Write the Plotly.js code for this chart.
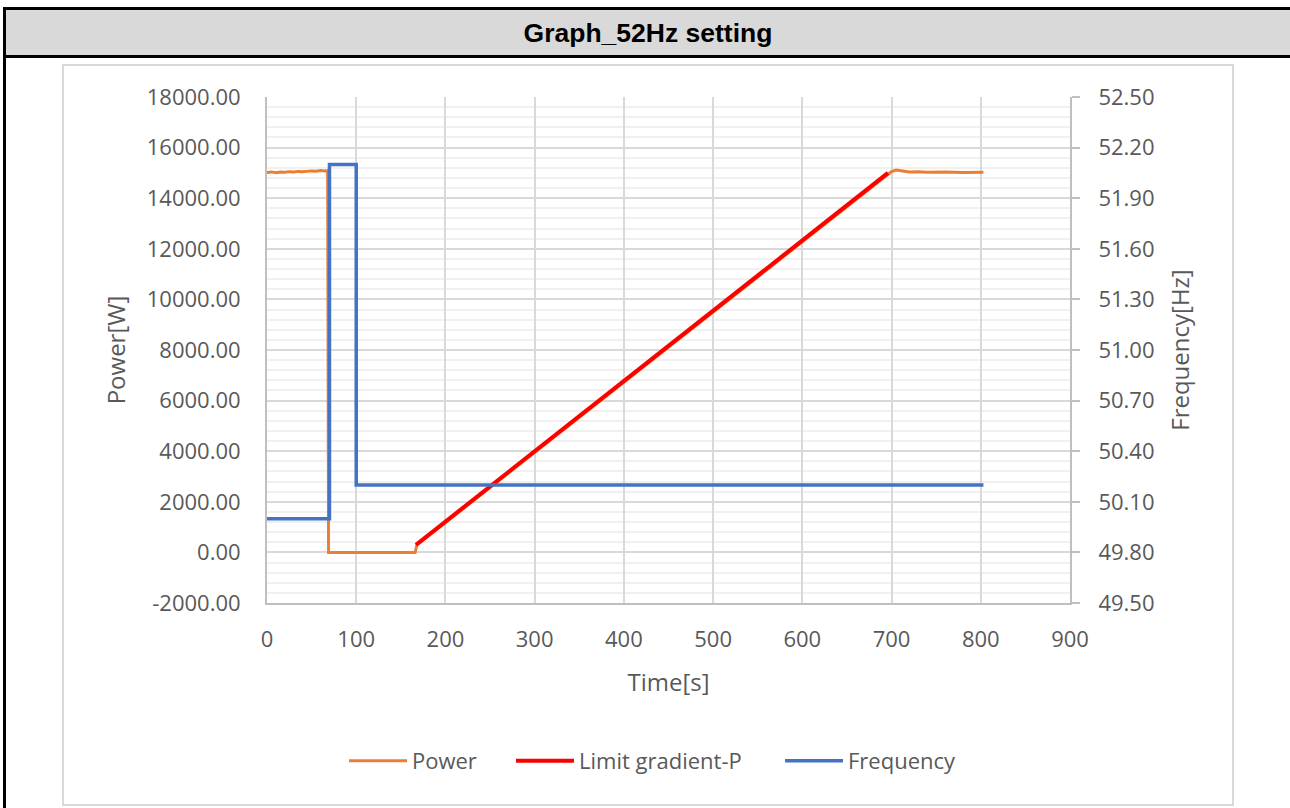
<!DOCTYPE html>
<html>
<head>
<meta charset="utf-8">
<script src="https://cdn.plot.ly/plotly-3.0.1.min.js"></script>
<style>
  html, body { margin: 0; padding: 0; background: #ffffff; width: 1290px; height: 808px; overflow: hidden; }
  #frame { position: absolute; left: 3px; top: 7px; width: 1284px; height: 810px;
           border-left: 3px solid #000; border-top: 3px solid #000; }
  #header { height: 45px; background: #d9d9d9; border-bottom: 3px solid #000;
            font-family: "Liberation Sans", Arial, sans-serif; font-weight: bold; font-size: 26.5px;
            color: #000; text-align: center; line-height: 46px; }
  #box { position: absolute; left: 62px; top: 64px; width: 1172px; height: 742px;
         border: 2px solid #d9d9d9; box-sizing: border-box; }
  #chart { position: absolute; left: 64px; top: 66px; width: 1168px; height: 738px; }
</style>
</head>
<body>
<div id="frame"><div id="header">Graph_52Hz setting</div></div>
<div id="box"></div>
<div id="chart"></div>
<script>
// ---- data ----
const chartTitle = "Graph_52Hz setting";
const seriesNames = ["Power", "Limit gradient-P", "Frequency"];

const powerTime = [0, 5, 10, 15, 20, 25, 30, 35, 40, 45, 50, 55, 60, 65, 68, 69, 80, 100, 120, 140, 160, 166, 167, 168,
                   200, 250, 300, 350, 400, 450, 500, 550, 600, 650, 690, 700, 705, 710, 720, 730, 740, 760, 780, 803];
const powerW = [15020, 15040, 15010, 15035, 15030, 15050, 15040, 15060, 15050, 15070, 15080, 15070, 15090, 15080, 15090, 0, 0, 0, 0, 0, 0, 0, 150, 300,
                1180, 2570, 3960, 5350, 6740, 8130, 9520, 10900, 12300, 13690, 14800, 15050, 15110, 15080, 15040, 15050, 15030, 15040, 15020, 15030];

const limitTime = [167, 696];
const limitW = [300, 15000];

const freqTime = [0, 70, 70, 100, 100, 803];
const freqHz = [50.0, 50.0, 52.1, 52.1, 50.2, 50.2];

const powerTicks = [-2000, 0, 2000, 4000, 6000, 8000, 10000, 12000, 14000, 16000, 18000];
const powerTickText = ["-2000.00", "0.00", "2000.00", "4000.00", "6000.00", "8000.00", "10000.00", "12000.00", "14000.00", "16000.00", "18000.00"];
const freqTicks = [49.5, 49.8, 50.1, 50.4, 50.7, 51.0, 51.3, 51.6, 51.9, 52.2, 52.5];
const freqTickText = ["49.50", "49.80", "50.10", "50.40", "50.70", "51.00", "51.30", "51.60", "51.90", "52.20", "52.50"];
const timeTicks = [0, 100, 200, 300, 400, 500, 600, 700, 800, 900];

const axisTitles = { x: "Time[s]", y: "Power[W]", y2: "Frequency[Hz]" };

// ---- chart ----
const FONT = '"Open Sans", "Noto Sans", sans-serif';
const TXT = '#595959';

const traces = [
  { x: powerTime, y: powerW, name: seriesNames[0], type: 'scatter', mode: 'lines',
    line: { color: '#ED7D31', width: 3 }, yaxis: 'y', legend: 'legend' },
  { x: limitTime, y: limitW, name: seriesNames[1], type: 'scatter', mode: 'lines',
    line: { color: '#FF0000', width: 4 }, yaxis: 'y', legend: 'legend2' },
  { x: freqTime, y: freqHz, name: seriesNames[2], type: 'scatter', mode: 'lines',
    line: { color: '#4472C4', width: 3.5 }, yaxis: 'y2', legend: 'legend3' }
];

function leg(xpx) {
  return { orientation: 'h', x: (xpx - 267) / 803, xanchor: 'left', y: -0.312, yanchor: 'middle',
           itemwidth: 58, font: { family: FONT, size: 22, color: TXT }, bgcolor: 'rgba(0,0,0,0)' };
}

const layout = {
  width: 1168, height: 738,
  margin: { l: 203, r: 162, t: 31, b: 201, pad: 0 },
  paper_bgcolor: 'rgba(0,0,0,0)', plot_bgcolor: '#ffffff',
  font: { family: FONT, color: TXT, size: 22 },
  showlegend: true,
  legend: leg(344),
  legend2: leg(511),
  legend3: leg(780),
  xaxis: {
    range: [0, 900], tickvals: timeTicks, ticktext: timeTicks.map(String),
    showgrid: true, gridcolor: '#d9d9d9', gridwidth: 2,
    zeroline: false, showline: true, linecolor: '#bfbfbf', linewidth: 2,
    ticks: '', ticklabelstandoff: 16,
    tickfont: { family: FONT, size: 22, color: TXT },
    title: { text: axisTitles.x, font: { family: FONT, size: 24, color: TXT }, standoff: 22 }
  },
  yaxis: {
    range: [-2000, 18000], tickvals: powerTicks, ticktext: powerTickText,
    showgrid: true, gridcolor: '#d9d9d9', gridwidth: 2,
    minor: { dtick: 400, tick0: 0, showgrid: true, gridcolor: '#f0f0f0', gridwidth: 2, ticks: '' },
    zeroline: false, showline: true, linecolor: '#bfbfbf', linewidth: 2,
    ticks: '', ticklabelstandoff: 20,
    tickfont: { family: FONT, size: 22, color: TXT },
    title: { text: axisTitles.y, font: { family: FONT, size: 24, color: TXT }, standoff: 14 }
  },
  yaxis2: {
    range: [49.5, 52.5], tickvals: freqTicks, ticktext: freqTickText,
    overlaying: 'y', side: 'right',
    showgrid: false, zeroline: false, showline: true, linecolor: '#bfbfbf', linewidth: 2,
    ticks: 'outside', ticklen: 8, tickwidth: 2, tickcolor: '#bfbfbf', ticklabelstandoff: 14,
    tickfont: { family: FONT, size: 22, color: TXT },
    title: { text: axisTitles.y2, font: { family: FONT, size: 24, color: TXT }, standoff: 19 }
  }
};

Plotly.newPlot('chart', traces, layout, { displayModeBar: false, staticPlot: true });
</script>
</body>
</html>
